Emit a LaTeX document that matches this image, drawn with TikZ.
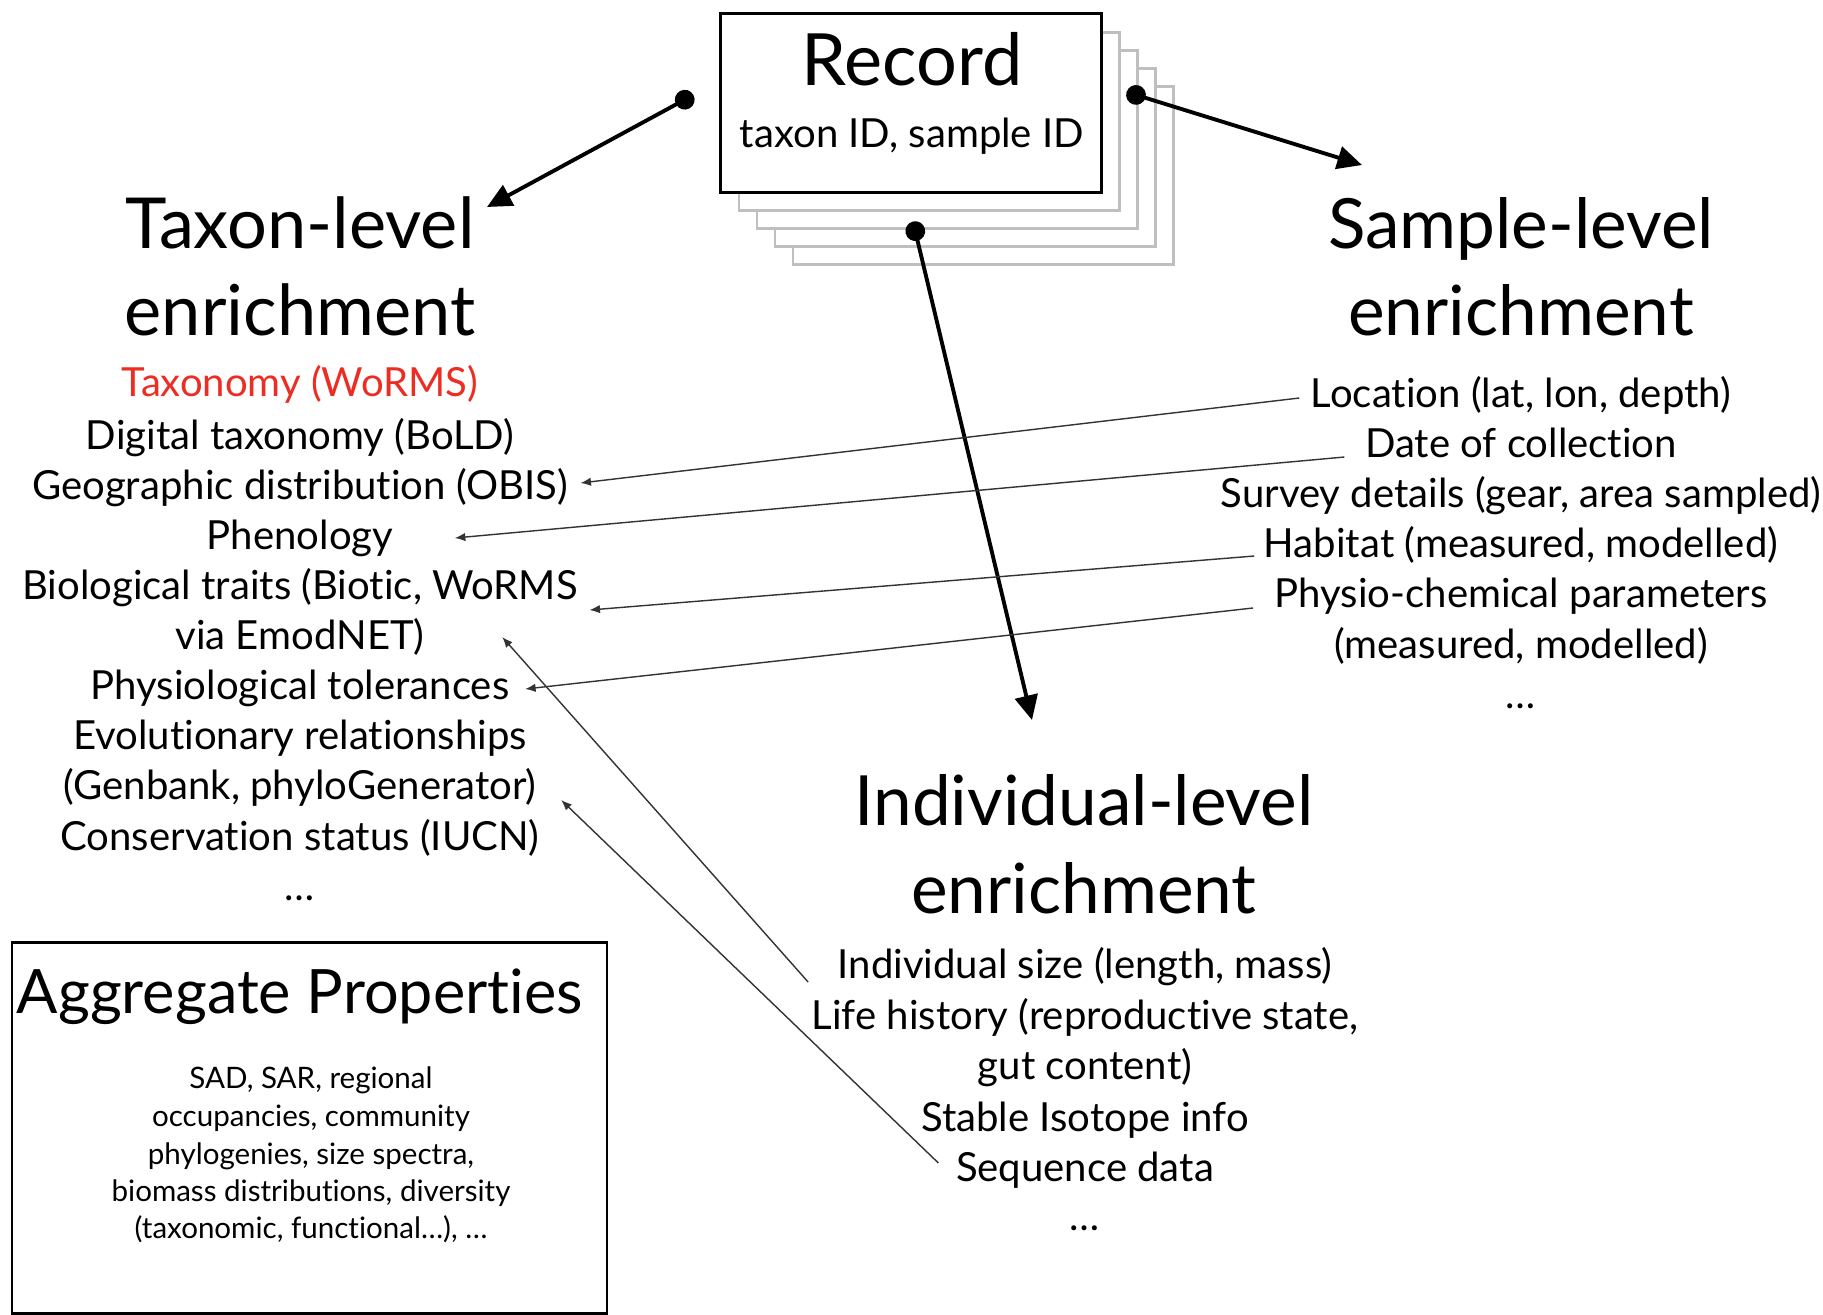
\documentclass[tikz,border=0pt]{standalone}
\usepackage{fontspec}
\setmainfont{Lato}[Ligatures=NoCommon]
\usetikzlibrary{positioning,calc,arrows.meta}

\definecolor{wormsred}{RGB}{236,45,35}

\tikzset{
  heading/.style={font=\fontsize{19.7}{24}\selectfont, inner sep=0pt, anchor=base},
  item/.style={font=\fontsize{11.4}{13}\selectfont, inner sep=0pt, anchor=base},
  smallitem/.style={font=\fontsize{8.4}{10}\selectfont, inner sep=0pt, anchor=base},
  recbox/.style={draw, line width=0.85pt, fill=white, minimum width=3.8cm, minimum height=1.78cm},
  shadowbox/.style={draw=black!25, line width=0.85pt, fill=white},
  bigarrow/.style={line width=1.1pt, {Circle[length=5.6pt]}-{Triangle[length=7pt,width=6.5pt]}},
  thinarrow/.style={line width=0.4pt, black!80, -{Latex[length=3pt,width=2.4pt]}},
}

\begin{document}
\begin{tikzpicture}[x=0.01cm, y=-0.01cm]
\useasboundingbox (0,0) rectangle (1823,1314);

% record with stacked copies behind it
\foreach \k in {4,3,2,1}
  \draw[shadowbox] (721+18*\k,14+18*\k) rectangle (1101+18*\k,192+18*\k);
\node[recbox] (rec) at (911,103) {};
\node[heading, font=\fontsize{20.5}{24}\selectfont] (recA) at (912,85) {Record};
\node[item] (recB) at (912,147) {taxon ID, sample ID};

% taxon level
\node[heading, font=\fontsize{20}{24}\selectfont] (taxA) at (300,248) {Taxon-level};
\node[heading, font=\fontsize{20}{24}\selectfont] (taxB) at (300,335) {enrichment};
\node[item, wormsred] (tax1) at (300,396) {Taxonomy (WoRMS)};
\node[item] (tax2) at (300,449) {Digital taxonomy (BoLD)};
\node[item] (tax3) at (300,499) {Geographic distribution (OBIS)};
\node[item] (tax4) at (300,549) {Phenology};
\node[item] (tax5) at (300,599) {Biological traits (Biotic, WoRMS};
\node[item] (tax6) at (300,649) {via EmodNET)};
\node[item] (tax7) at (300,699) {Physiological tolerances};
\node[item] (tax8) at (300,749) {Evolutionary relationships};
\node[item] (tax9) at (300,799) {(Genbank, phyloGenerator)};
\node[item] (tax10) at (300,850) {Conservation status (IUCN)};
\node[item] (tax11) at (300,900) {\dots};

% sample level
\node[heading] (samA) at (1521,248) {Sample-level};
\node[heading] (samB) at (1521,335) {enrichment};
\node[item] (sam1) at (1521,407) {Location (lat, lon, depth)};
\node[item] (sam2) at (1521,457) {Date of collection};
\node[item] (sam3) at (1521,507) {Survey details (gear, area sampled)};
\node[item] (sam4) at (1521,557) {Habitat (measured, modelled)};
\node[item] (sam5) at (1521,607) {Physio-chemical parameters};
\node[item] (sam6) at (1521,658) {(measured, modelled)};
\node[item] (sam7) at (1521,708) {\dots};

% individual level
\node[heading] (indA) at (1084,825) {Individual-level};
\node[heading] (indB) at (1084,913) {enrichment};
\node[item] (ind1) at (1085,978) {Individual size (length, mass)};
\node[item] (ind2) at (1085,1029) {Life history (reproductive state,};
\node[item] (ind3) at (1085,1079) {gut content)};
\node[item] (ind4) at (1085,1131) {Stable Isotope info};
\node[item] (ind5) at (1085,1181) {Sequence data};
\node[item] (ind6) at (1085,1230) {\dots};

% aggregate properties
\draw[line width=0.85pt] (12,942) rectangle (607,1313);
\node[heading, font=\fontsize{17.4}{21}\selectfont] (aggA) at (300,1013) {Aggregate Properties};
\node[smallitem] (agg1) at (311,1088) {SAD, SAR, regional};
\node[smallitem] (agg2) at (311,1126) {occupancies, community};
\node[smallitem] (agg3) at (311,1164) {phylogenies, size spectra,};
\node[smallitem] (agg4) at (311,1201) {biomass distributions, diversity};
\node[smallitem] (agg5) at (311,1238) {(taxonomic, functional\dots), \dots};

% thick connectors out of the record
\coordinate (taxtip) at (487,207);
\coordinate (samtip) at (1362,165);
\coordinate (indtip) at (1032,720);
\draw[bigarrow] ($(rec.west)+(-26,-8)$) -- (taxtip);
\draw[bigarrow] ($(rec.east)+(24,-11)$) -- (samtip);
\draw[bigarrow] ($(rec.south)+(2,28)$) -- (indtip);

% thin connectors
\draw[thinarrow] ($(sam1.base west)+(-11,-9)$) -- ($(tax3.base east)+(12,-16)$);
\draw[thinarrow] ($(sam2.base west)+(-20,0)$) -- ($(tax4.base east)+(61,-11)$);
\draw[thinarrow] ($(sam4.base west)+(-9,-1)$) -- ($(tax5.base east)+(11,11)$);
\draw[thinarrow] ($(sam5.base west)+(-21,1)$) -- ($(tax7.base east)+(15,-10)$);
\draw[thinarrow] ($(ind1.base west)+(-29,4)$) -- ($(tax6.base east)+(77,-12)$);
\draw[thinarrow] ($(ind5.base west)+(-17,-18)$) -- ($(tax9.base east)+(24,1)$);

\end{tikzpicture}
\end{document}
